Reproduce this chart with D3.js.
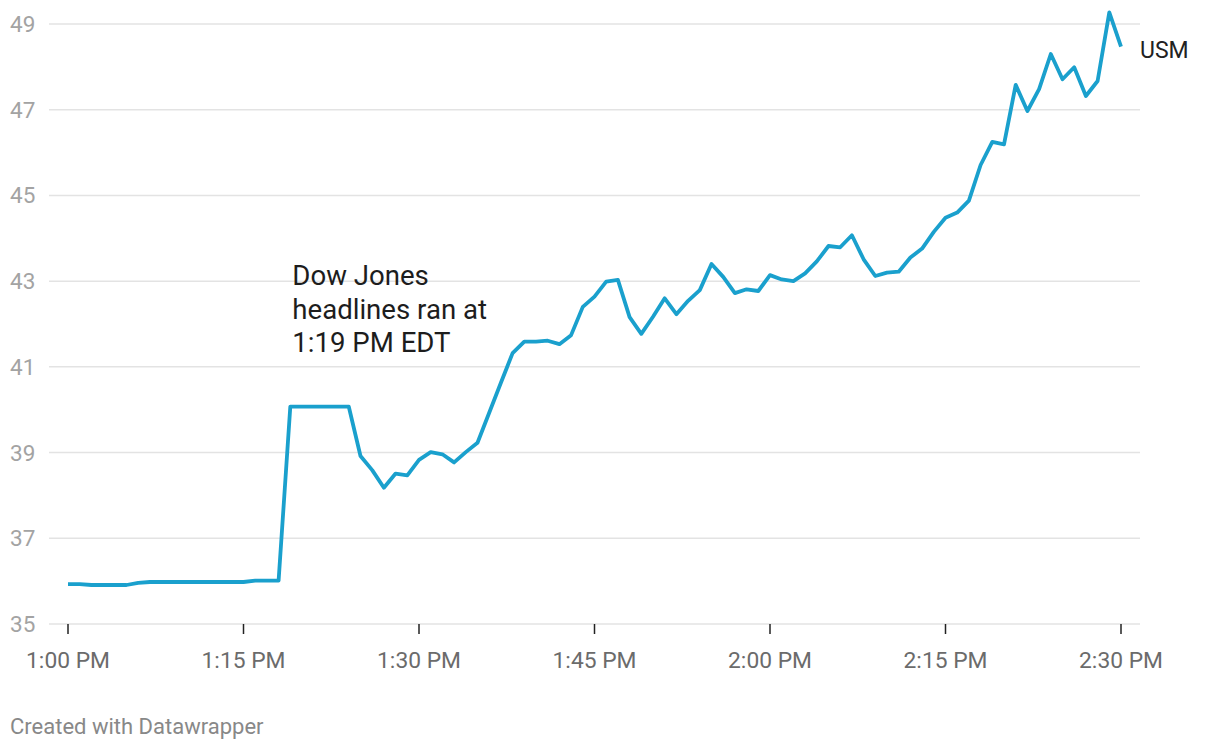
<!DOCTYPE html>
<html><head><meta charset="utf-8">
<script src="https://cdn.jsdelivr.net/npm/d3@7"></script>
<style>
html,body{margin:0;padding:0;background:#fff;}
svg{display:block;font-family:Roboto,"Noto Sans",sans-serif;}
</style></head>
<body><svg id="c" width="1220" height="750"></svg>
<script>
// Data: USM share price, one value per minute from 1:00 PM to 2:30 PM
const startTime = "2018-06-01T13:00:00";
const usmValues = [
35.93,35.93,35.91,35.91,35.91,35.91,35.96,35.98,35.98,35.98,
35.98,35.98,35.98,35.98,35.98,35.98,36.01,36.01,36.01,40.07,
40.07,40.07,40.07,40.07,40.07,38.92,38.59,38.18,38.51,38.47,
38.83,39.01,38.96,38.77,39.01,39.23,39.93,40.63,41.32,41.59,
41.59,41.61,41.53,41.74,42.40,42.64,42.99,43.03,42.16,41.77,
42.17,42.60,42.23,42.54,42.79,43.40,43.10,42.72,42.81,42.77,
43.14,43.04,43.00,43.18,43.46,43.82,43.79,44.07,43.51,43.12,
43.20,43.22,43.55,43.76,44.15,44.48,44.60,44.88,45.71,46.25,
46.19,47.58,46.97,47.48,48.30,47.71,47.99,47.32,47.67,49.27,
48.47];
const yTicks = [35,37,39,41,43,45,47,49];
const xTickLabels = ["1:00 PM","1:15 PM","1:30 PM","1:45 PM","2:00 PM","2:15 PM","2:30 PM"];
const seriesName = "USM";
const annotationLines = ["Dow Jones","headlines ran at","1:19 PM EDT"];
const annotationTime = "2018-06-01T13:19:00";
const annotationValue = 42.9;
const credit = "Created with Datawrapper";

const t0 = new Date(startTime);
const data = usmValues.map((v,i)=>({t:new Date(t0.getTime()+i*60000), v}));
const xTickDates = xTickLabels.map((_,i)=>new Date(t0.getTime()+i*15*60000));

const svg = d3.select("#c");
const x = d3.scaleTime().domain([data[0].t, data[data.length-1].t]).range([68,1121]);
const y = d3.scaleLinear().domain([35,49]).range([624,24]);

// gridlines
svg.append("g").selectAll("line").data(yTicks).join("line")
  .attr("x1",49).attr("x2",1140)
  .attr("y1",d=>y(d)).attr("y2",d=>y(d))
  .attr("stroke","#e3e3e3").attr("stroke-width",1.5);

// y labels
svg.append("g").selectAll("text").data(yTicks).join("text")
  .attr("x",10).attr("y",d=>y(d)+8)
  .attr("fill","#a3a3a3").attr("font-size",22.5)
  .text(d=>d);

// x axis ticks
const xg = svg.append("g");
xg.selectAll("line").data(xTickDates).join("line")
  .attr("x1",d=>x(d)).attr("x2",d=>x(d))
  .attr("y1",624).attr("y2",634)
  .attr("stroke","#222").attr("stroke-width",1.5);
xg.selectAll("text").data(xTickDates).join("text")
  .attr("x",d=>x(d)).attr("y",668)
  .attr("text-anchor","middle")
  .attr("fill","#6b6b6b").attr("font-size",22.8)
  .text((d,i)=>xTickLabels[i]);

// line
svg.append("path").datum(data)
  .attr("fill","none").attr("stroke","#1aa0cd").attr("stroke-width",3.8)
  .attr("stroke-linejoin","round").attr("stroke-linecap","butt")
  .attr("d", d3.line().x(d=>x(d.t)).y(d=>y(d.v)));

// series label
const last = data[data.length-1];
svg.append("text").attr("x",1140).attr("y",y(last.v)+11.5)
  .attr("fill","#222").attr("font-size",23).text(seriesName);

// annotation
const ann = svg.append("text").attr("fill","#1d1d1d").attr("font-size",27.6);
ann.selectAll("tspan").data(annotationLines).join("tspan")
  .attr("x",x(new Date(annotationTime))+2)
  .attr("y",(d,i)=>y(annotationValue)+i*33.5)
  .text(d=>d);

// credit
svg.append("text").attr("x",10).attr("y",734)
  .attr("fill","#888").attr("font-size",22).text(credit);
</script>
</body></html>
